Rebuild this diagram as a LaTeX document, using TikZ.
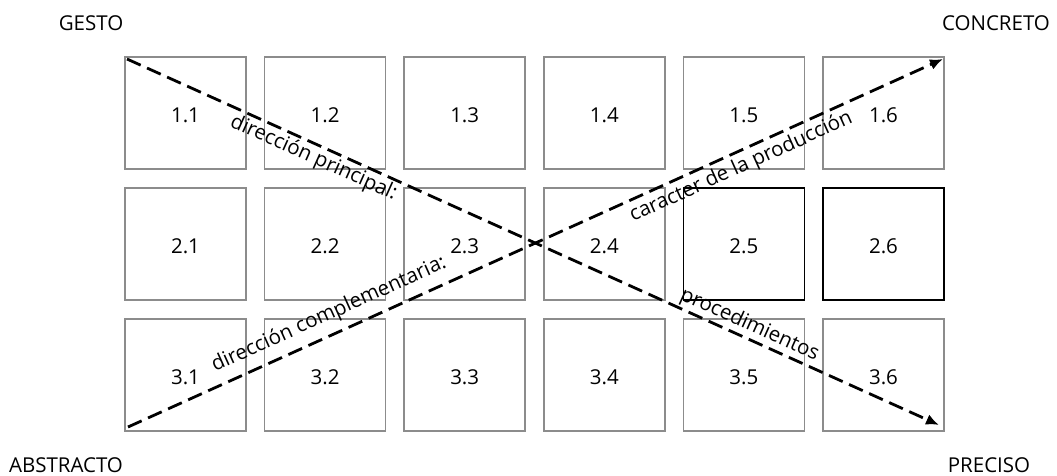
\documentclass[tikz,border=0pt]{standalone}
\usepackage{fontspec}
\setmainfont{Open Sans}
\usetikzlibrary{arrows.meta}
\begin{document}
\begin{tikzpicture}[x=1pt,y=-1pt,
  cell/.style={draw=black!45, line width=1.7pt, minimum width=121pt, minimum height=112pt, inner sep=0pt},
  cellbold/.style={cell, draw=black},
  lbl/.style={font=\fontsize{20.5}{24}\selectfont, inner sep=0pt},
  diag/.style={line width=2.8pt, dash pattern=on 15pt off 7pt, -{Latex[length=13pt,width=11pt]}},
  corner/.style={font=\fontsize{20.5}{24}\selectfont, inner sep=0pt}
]
\useasboundingbox (0,0) rectangle (1057,476);
% grid of cells
\foreach \r/\ry in {1/113,2/244,3/375}{
  \foreach \c in {1,...,6}{
    \pgfmathsetmacro{\cx}{185.5+139.6*(\c-1)}
    \ifnum\r=2 \ifnum\c>4
      \node[cellbold] (c\r\c) at (\cx,\ry) {};
    \else
      \node[cell] (c\r\c) at (\cx,\ry) {};
    \fi\else
      \node[cell] (c\r\c) at (\cx,\ry) {};
    \fi
    \node[lbl] (t\r\c) at (\cx,\ry+2) {\r.\c};
  }
}
% corner labels
\node[corner] (gesto) at (91,23) {GESTO};
\node[corner] (concreto) at (996,23) {CONCRETO};
\node[corner] (abstracto) at (66,465) {ABSTRACTO};
\node[corner] (preciso) at (989,465) {PRECISO};
% diagonals
\coordinate (p1) at (127,59);
\coordinate (p2) at (939,425);
\coordinate (q1) at (128,427);
\coordinate (q2) at (943,59);
\draw[diag] (p1) -- (p2);
\draw[diag] (q1) -- (q2);
% diagonal labels
\node[lbl, rotate=-24.26, anchor=base west] (dp) at (229,126) {dirección principal:};
\node[lbl, rotate=-24.26, anchor=base west] (pr) at (679,299) {procedimientos};
\node[lbl, rotate=24.3, anchor=base west] (dc) at (215,372) {dirección complementaria:};
\node[lbl, rotate=24.3, anchor=base west] (cp) at (633,222) {caracter de la producción};
\end{tikzpicture}
\end{document}
